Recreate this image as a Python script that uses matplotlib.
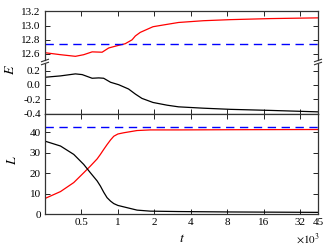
import numpy as np
import matplotlib
matplotlib.use("Agg")
import matplotlib.pyplot as plt
from matplotlib.ticker import FixedLocator, FixedFormatter, FormatStrFormatter
from matplotlib.lines import Line2D

plt.rcParams["font.family"] = ["Liberation Serif", "DejaVu Serif"]
plt.rcParams["mathtext.fontset"] = "stix"

# energy E(t), t in units of 10^3
t_E_red = [0.25, 0.336, 0.446, 0.522, 0.613, 0.741, 0.84, 0.987, 1.15, 1.31,
           1.395, 1.53, 1.78, 1.95, 2.38, 3.17, 5.1, 8.5, 18.3, 45]
E_red = [12.618, 12.59, 12.567, 12.59, 12.63, 12.625, 12.685, 12.717, 12.745,
         12.80, 12.855, 12.905, 12.955, 12.985, 13.01, 13.045, 13.07, 13.085,
         13.10, 13.11]
t_E_black = [0.25, 0.336, 0.446, 0.507, 0.613, 0.695, 0.763, 0.87, 1.015, 1.225,
             1.395, 1.58, 1.95, 2.55, 3.17, 5.1, 8.5, 18.3, 45]
E_black = [0.108, 0.127, 0.155, 0.145, 0.094, 0.099, 0.094, 0.038, 0.004, -0.056,
           -0.127, -0.187, -0.244, -0.282, -0.305, -0.324, -0.34, -0.355, -0.375]
E_ref = 12.737

# angular momentum L(t)
t_L = [0.25, 0.336, 0.432, 0.522, 0.593, 0.674, 0.717, 0.765, 0.814, 0.87,
       0.925, 1.0, 1.117, 1.441, 1.85, 3.17, 8.5, 45]
L_red = [7.6, 11.0, 15.4, 20.2, 23.5, 27.0, 29.2, 31.7, 34.0, 36.3,
         38.1, 39.2, 39.8, 40.9, 41.2, 41.2, 41.3, 41.4]
L_black = [35.7, 33.3, 29.2, 24.3, 20.2, 16.2, 13.7, 10.6, 8.0, 6.3,
           5.1, 4.2, 3.5, 1.9, 1.4, 1.2, 1.0, 0.8]
L_ref = 42.4

xticks = [0.5, 1, 2, 4, 8, 16, 32, 45]
xlabels = ["0.5", "1", "2", "4", "8", "16", "32", "45"]

fig = plt.figure(figsize=(3.32, 2.49), dpi=100)
left, width = 45 / 332, 273 / 332
def fy(px):
    return 1 - px / 249

ax_hi = fig.add_axes([left, fy(60.5), width, fy(11.5) - fy(60.5)])
ax_lo = fig.add_axes([left, fy(114), width, fy(63.5) - fy(114)])
ax_L = fig.add_axes([left, fy(214), width, fy(114) - fy(214)])

for ax in (ax_hi, ax_lo, ax_L):
    ax.set_xscale("log", base=2)
    ax.set_xlim(0.25, 45)
    ax.xaxis.set_major_locator(FixedLocator(xticks))
    ax.xaxis.set_minor_locator(FixedLocator([]))
    ax.tick_params(which="both", direction="in", top=True, right=True,
                   length=3.5, width=0.6, labelsize=8, pad=3)
    for s in ax.spines.values():
        s.set_linewidth(0.9)
        s.set_color("#333333")

ax_hi.plot(t_E_red, E_red, color="red", lw=0.9)
ax_hi.axhline(E_ref, color="blue", lw=1.0, dashes=(6, 4))
ax_hi.set_ylim(12.508, 13.2)
ax_hi.set_yticks([12.6, 12.8, 13.0, 13.2])
ax_hi.yaxis.set_major_formatter(FormatStrFormatter("%.1f"))
ax_hi.spines["bottom"].set_visible(False)
ax_hi.tick_params(bottom=False, labelbottom=False)

ax_lo.plot(t_E_black, E_black, color="black", lw=0.9)
ax_lo.set_ylim(-0.405, 0.30)
ax_lo.set_yticks([-0.4, -0.2, 0.0, 0.2])
ax_lo.yaxis.set_major_formatter(FormatStrFormatter("%.1f"))
ax_lo.spines["top"].set_visible(False)
ax_lo.tick_params(top=False, labelbottom=False)

ax_L.plot(t_L, L_red, color="red", lw=0.9)
ax_L.plot(t_L, L_black, color="black", lw=0.9)
ax_L.axhline(L_ref, color="blue", lw=1.0, dashes=(6, 4))
ax_L.set_ylim(0, 49)
ax_L.set_yticks([0, 10, 20, 30, 40])
ax_L.xaxis.set_major_formatter(FixedFormatter(xlabels))

# break marks on the E axis
for xs in (45, 318):
    for yp in (60.5, 63.5):
        fig.add_artist(Line2D([(xs - 3.5) / 332, (xs + 3.5) / 332],
                              [fy(yp + 1.2), fy(yp - 1.2)],
                              color="#333333", lw=0.8))

fig.text(11 / 332, fy(70), "$E$", fontsize=10, ha="center", va="center", rotation=90)
fig.text(12 / 332, fy(160), "$L$", fontsize=10, ha="center", va="center", rotation=90)
fig.text(182 / 332, fy(238), "$t$", fontsize=10, ha="center", va="center")
fig.text(320 / 332, fy(239), r"$\times10^3$", fontsize=8, ha="right", va="center")

fig.savefig("out.png", dpi=100)
